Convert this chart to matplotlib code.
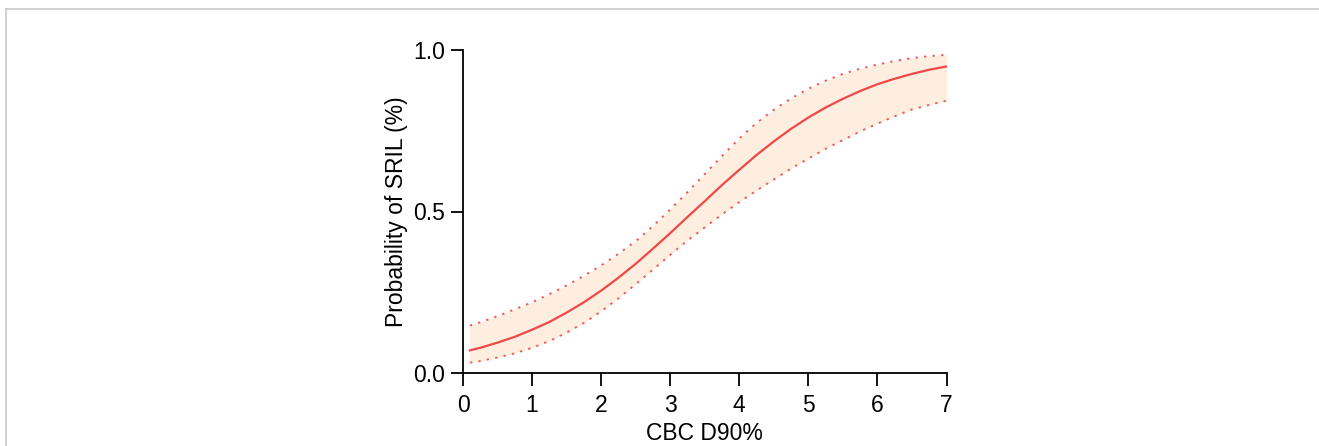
import matplotlib
matplotlib.use("Agg")
import matplotlib.pyplot as plt
from matplotlib.lines import Line2D

plt.rcParams['font.family'] = ['Liberation Sans', 'DejaVu Sans']

# Data
dose = [0.1, 0.25, 0.5, 0.75, 1.0, 1.25, 1.5, 1.75, 2.0, 2.25, 2.5, 2.75, 3.0, 3.25, 3.5,
        3.75, 4.0, 4.25, 4.5, 4.75, 5.0, 5.25, 5.5, 5.75, 6.0, 6.25, 6.5, 6.75, 7.0]
prob = [0.070, 0.078, 0.094, 0.112, 0.134, 0.158, 0.187, 0.219, 0.255, 0.295, 0.338, 0.385,
        0.433, 0.483, 0.532, 0.582, 0.629, 0.675, 0.717, 0.756, 0.791, 0.822, 0.849, 0.873,
        0.894, 0.911, 0.926, 0.939, 0.949]
upper = [0.147, 0.157, 0.176, 0.197, 0.219, 0.244, 0.271, 0.301, 0.333, 0.369, 0.408, 0.455,
         0.506, 0.560, 0.616, 0.672, 0.726, 0.774, 0.815, 0.850, 0.880, 0.905, 0.926, 0.942,
         0.955, 0.966, 0.975, 0.981, 0.985]
lower = [0.032, 0.037, 0.048, 0.061, 0.078, 0.099, 0.125, 0.155, 0.191, 0.231, 0.275, 0.320,
         0.366, 0.410, 0.451, 0.491, 0.529, 0.565, 0.599, 0.633, 0.664, 0.694, 0.721, 0.748,
         0.772, 0.795, 0.816, 0.830, 0.843]
xticks = [0, 1, 2, 3, 4, 5, 6, 7]
yticks = [0.0, 0.5, 1.0]
ytick_labels = ["0.0", "0.5", "1.0"]

fig = plt.figure(figsize=(13.19, 4.46), dpi=100)
ax = fig.add_axes([463/1319, 1-373/446, (946.5-463)/1319, (373-50)/446])

red = '#f04848'
ax.fill_between(dose, lower, upper, color='#fdeee0', linewidth=0)
ax.plot(dose, upper, color='#f25a5a', linestyle=(0, (1.2, 3.2)), linewidth=1.4)
ax.plot(dose, lower, color='#f25a5a', linestyle=(0, (1.2, 3.2)), linewidth=1.4)
ax.plot(dose, prob, color=red, linewidth=1.6)

ax.set_xlim(0, 7)
ax.set_ylim(0, 1)
ax.set_xticks(xticks)
ax.set_yticks(yticks)
ax.set_yticklabels(ytick_labels)
for s in ['top', 'right']:
    ax.spines[s].set_visible(False)
for s in ['left', 'bottom']:
    ax.spines[s].set_linewidth(1.3)
ax.tick_params(direction='out', length=9, width=1.3, labelsize=16.5, colors='black')
ax.tick_params(axis='x', pad=6)
ax.tick_params(axis='y', pad=4)
ax.set_xlabel('CBC D90%', fontsize=16.5, labelpad=4)
ax.set_ylabel('Probability of SRIL (%)', fontsize=16.5, labelpad=4)

# light grey frame (cropped panel border)
fig.add_artist(Line2D([6/1319, 1], [1-9/446, 1-9/446], transform=fig.transFigure, color='#c8c8c8', linewidth=1.2))
fig.add_artist(Line2D([6/1319, 6/1319], [0, 1-9/446], transform=fig.transFigure, color='#c8c8c8', linewidth=1.2))

fig.savefig('out.png', dpi=100)
